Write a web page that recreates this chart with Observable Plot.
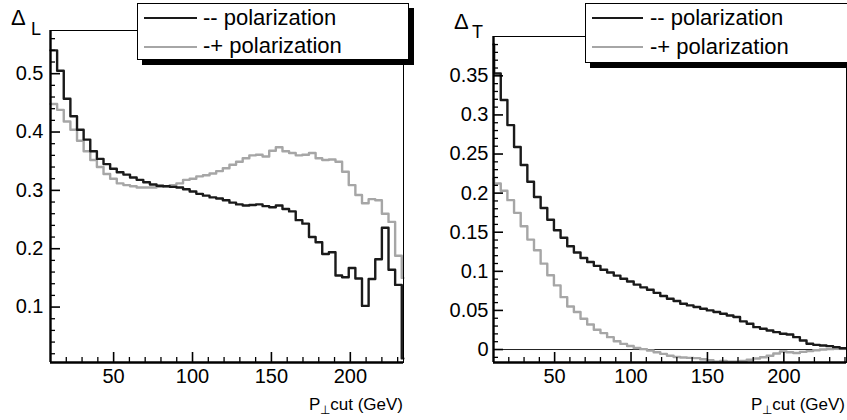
<!DOCTYPE html>
<html>
<head>
<meta charset="utf-8">
<script src="https://cdn.jsdelivr.net/npm/d3@7"></script>
<script src="https://cdn.jsdelivr.net/npm/@observablehq/plot@0.6"></script>
<style>
  body { margin: 0; background: #fff; }
  #wrap { position: relative; width: 847px; height: 420px; overflow: hidden;
          font-family: "Liberation Sans", Arial, Helvetica, sans-serif; color: #000; }
  .panel { position: absolute; top: 0; }
  .legend { position: absolute; background: #fff; border: 1px solid #000; box-sizing: border-box;
            box-shadow: 5px 5px 0 #000; }
  .legend .ln { position: absolute; height: 0; }
  .legend .tx { position: absolute; font-size: 22px; line-height: 22px; white-space: nowrap; }
  .ttl { position: absolute; white-space: nowrap; }
</style>
</head>
<body>
<div id="wrap"></div>
<script>
// ---------- data ----------
const seriesNames = ["-- polarization", "-+ polarization"];

// Left panel: Delta_L vs P_T cut (GeV); bin left edges + final edge
const leftEdges = [10, 14.2, 18.4, 22.6, 26.8, 31, 35.2, 39.4, 43.6, 47.8, 52, 56.2, 60.4, 64.6, 68.8,
  73, 77.2, 81.4, 85.6, 89.8, 94, 98.2, 102.4, 106.6, 110.8, 115, 119.2, 123.4, 127.6, 131.8, 136,
  140.2, 144.4, 148.6, 152.8, 157, 161.2, 165.4, 169.6, 173.8, 178, 182.2, 186.4, 190.6, 194.8, 199,
  203.2, 207.4, 211.6, 215.8, 220, 224.2, 228.4, 232.6, 233.6];
const leftMinusMinus = [0.540, 0.505, 0.457, 0.427, 0.404, 0.387, 0.367, 0.354, 0.345, 0.337,
  0.331, 0.327, 0.322, 0.318, 0.314, 0.310, 0.308, 0.307, 0.306, 0.305,
  0.302, 0.298, 0.294, 0.291, 0.288, 0.286, 0.283, 0.279, 0.276, 0.274,
  0.275, 0.276, 0.273, 0.271, 0.274, 0.268, 0.264, 0.249, 0.243, 0.220,
  0.211, 0.191, 0.194, 0.154, 0.151, 0.167, 0.149, 0.102, 0.148, 0.182,
  0.236, 0.164, 0.138, 0.012];
const leftMinusPlus = [0.448, 0.438, 0.418, 0.404, 0.385, 0.367, 0.352, 0.340, 0.328, 0.320,
  0.312, 0.309, 0.307, 0.305, 0.305, 0.305, 0.306, 0.307, 0.309, 0.312,
  0.318, 0.320, 0.324, 0.326, 0.329, 0.333, 0.338, 0.344, 0.349, 0.355,
  0.360, 0.361, 0.358, 0.368, 0.374, 0.367, 0.364, 0.360, 0.361, 0.364,
  0.355, 0.352, 0.353, 0.349, 0.332, 0.309, 0.292, 0.278, 0.285, 0.283,
  0.260, 0.246, 0.188, 0.150];

// Right panel: Delta_T vs P_T cut (GeV)
const rightEdges = [10, 10.4, 14.75, 19.1, 23.45, 27.8, 32.15, 36.5, 40.85, 45.2, 49.55, 53.9, 58.25,
  62.6, 66.95, 71.3, 75.65, 80, 84.35, 88.7, 93.05, 97.4, 101.75, 106.1, 110.45, 114.8, 119.15,
  123.5, 127.85, 132.2, 136.55, 140.9, 145.25, 149.6, 153.95, 158.3, 162.65, 167, 171.35, 175.7,
  180.05, 184.4, 188.75, 193.1, 197.45, 201.8, 206.15, 210.5, 214.85, 219.2, 223.55, 227.9, 232.25,
  236.6, 240.95];
const rightMinusMinus = [0.390, 0.353, 0.319, 0.287, 0.259, 0.236, 0.2145, 0.195, 0.181, 0.166,
  0.1526, 0.143, 0.132, 0.124, 0.117, 0.112, 0.107, 0.102, 0.0985, 0.0945,
  0.0905, 0.087, 0.083, 0.0795, 0.0765, 0.0725, 0.0685, 0.065, 0.062, 0.0585,
  0.0564, 0.0543, 0.0521, 0.050, 0.0479, 0.0457, 0.0436, 0.0415, 0.036, 0.0329,
  0.0286, 0.0265, 0.0244, 0.0222, 0.0201, 0.0192, 0.0158, 0.0115, 0.0073, 0.006,
  0.0051, 0.0043, 0.003, 0.0017];
const rightMinusPlus = [0.218, 0.2124, 0.203, 0.191, 0.1748, 0.1577, 0.1406, 0.1269, 0.1098, 0.0949,
  0.082, 0.067, 0.0551, 0.0479, 0.0393, 0.032, 0.0252, 0.021, 0.0158, 0.0105,
  0.0072, 0.0045, 0.002, 0.0005, -0.0013, -0.0034, -0.0056, -0.008, -0.0095, -0.0103,
  -0.0107, -0.011, -0.0125, -0.0137, -0.0155, -0.0145, -0.0155, -0.0155, -0.0145, -0.013,
  -0.0115, -0.0098, -0.008, -0.005, -0.0025, -0.0035, -0.0045, -0.003, -0.002, -0.001,
  0.0, 0.0005, 0.0008, 0.001];

// axis ticks
const xMajor = [50, 100, 150, 200];
const xMajorLabels = ["50", "100", "150", "200"];
const xMinor = [20, 30, 40, 60, 70, 80, 90, 110, 120, 130, 140, 160, 170, 180, 190, 210, 220, 230, 240];
const leftYMajor = [0.1, 0.2, 0.3, 0.4, 0.5];
const leftYLabels = ["0.1", "0.2", "0.3", "0.4", "0.5"];
const leftYMinor = [0.02, 0.04, 0.06, 0.08, 0.12, 0.14, 0.16, 0.18, 0.22, 0.24, 0.26, 0.28, 0.32, 0.34,
  0.36, 0.38, 0.42, 0.44, 0.46, 0.48, 0.52, 0.54, 0.56];
const rightYMajor = [0, 0.05, 0.1, 0.15, 0.2, 0.25, 0.3, 0.35];
const rightYLabels = ["0", "0.05", "0.1", "0.15", "0.2", "0.25", "0.3", "0.35"];
const rightYMinor = [-0.01, 0.01, 0.02, 0.03, 0.04, 0.06, 0.07, 0.08, 0.09, 0.11, 0.12, 0.13, 0.14, 0.16,
  0.17, 0.18, 0.19, 0.21, 0.22, 0.23, 0.24, 0.26, 0.27, 0.28, 0.29, 0.31, 0.32, 0.33, 0.34, 0.36,
  0.37, 0.38, 0.39];

// ---------- drawing ----------
const FONT = '"Liberation Sans", Arial, Helvetica, sans-serif';
const H = 420;

function steps(edges, vals) {
  const pts = vals.map((v, i) => ({x: edges[i], y: v}));
  pts.push({x: edges[vals.length], y: vals[vals.length - 1]});
  return pts;
}

function panel(o) {
  const fw = o.width - o.marginLeft - o.marginRight;
  const fh = H - o.marginTop - o.marginBottom;
  const ymap = new Map(o.yMajor.map((d, i) => [d, o.yLabels[i]]));
  const xmap = new Map(xMajor.map((d, i) => [d, xMajorLabels[i]]));
  const xMinorIn = xMinor.filter(d => d < o.xDomain[1]);
  return Plot.plot({
    width: o.width, height: H,
    marginLeft: o.marginLeft, marginRight: o.marginRight,
    marginTop: o.marginTop, marginBottom: o.marginBottom,
    style: {fontFamily: FONT, fontSize: "20px", color: "#000", background: "transparent", overflow: "visible"},
    x: {domain: o.xDomain},
    y: {domain: o.yDomain},
    marks: [
      o.zero ? Plot.ruleY([0], {stroke: "#222", strokeWidth: 1}) : null,
      Plot.line(steps(o.edges, o.gray), {x: "x", y: "y", curve: "step-after", stroke: "#a6a6a6", strokeWidth: 2.4}),
      Plot.line(steps(o.edges, o.black), {x: "x", y: "y", curve: "step-after", stroke: "#1a1a1a", strokeWidth: 2.4}),
      Plot.frame({stroke: "#000", strokeWidth: 1}),
      Plot.tickY(o.yMajor, {y: d => d, insetRight: fw - 10, stroke: "#000", strokeWidth: 1.6}),
      Plot.tickY(o.yMinor, {y: d => d, insetRight: fw - 5, stroke: "#000", strokeWidth: 1.3}),
      Plot.tickX(xMajor, {x: d => d, insetTop: fh - 10, stroke: "#000", strokeWidth: 1.6}),
      Plot.tickX(xMinorIn, {x: d => d, insetTop: fh - 5, stroke: "#000", strokeWidth: 1.3}),
      Plot.ruleX([o.xDomain[0]], {stroke: "#000", strokeWidth: 2.4}),
      Plot.ruleY([o.yDomain[0]], {stroke: "#000", strokeWidth: 2.4}),
      Plot.axisY(o.yMajor, {tickSize: 0, tickPadding: o.yPad, fontSize: 20, label: null, tickFormat: d => ymap.get(d)}),
      Plot.axisX(xMajor, {tickSize: 0, tickPadding: 6, fontSize: 20, label: null, tickFormat: d => xmap.get(d)})
    ]
  });
}

const wrap = document.getElementById("wrap");

const left = panel({
  width: 423, marginLeft: 50, marginRight: 20, marginTop: 30, marginBottom: 58,
  xDomain: [10, 233.7], yDomain: [0.005, 0.574],
  edges: leftEdges, black: leftMinusMinus, gray: leftMinusPlus,
  yMajor: leftYMajor, yLabels: leftYLabels, yMinor: leftYMinor, yPad: 7, zero: false
});
left.classList.add("panel"); left.style.left = "0px";
wrap.appendChild(left);

const right = panel({
  width: 424, marginLeft: 70, marginRight: 1, marginTop: 36, marginBottom: 58,
  xDomain: [10, 241], yDomain: [-0.0166, 0.4003],
  edges: rightEdges, black: rightMinusMinus, gray: rightMinusPlus,
  yMajor: rightYMajor, yLabels: rightYLabels, yMinor: rightYMinor, yPad: 5, zero: true
});
right.classList.add("panel"); right.style.left = "423px";
wrap.appendChild(right);

// ---------- titles and legends ----------
function addText(html, css) {
  const d = document.createElement("div");
  d.className = "ttl";
  d.innerHTML = html;
  Object.assign(d.style, css);
  wrap.appendChild(d);
  return d;
}
// y titles (baseline ≈ top + 0.846*fontSize)
addText("Δ", {left: "11px", top: (26 - 0.846 * 22) + "px", fontSize: "22px", lineHeight: "22px"});
addText("L", {left: "31px", top: (35 - 0.846 * 18) + "px", fontSize: "18px", lineHeight: "18px"});
addText("Δ", {left: "454px", top: (30 - 0.846 * 22) + "px", fontSize: "22px", lineHeight: "22px"});
addText("T", {left: "472px", top: (38.5 - 0.846 * 18) + "px", fontSize: "18px", lineHeight: "18px"});

// x titles
const xt = 'P<span style="font-size:12px;position:relative;top:4px;">⊥</span>cut (GeV)';
addText(xt, {right: (847 - 403) + "px", top: (410 - 0.846 * 17) + "px", fontSize: "17px", lineHeight: "17px"});
addText(xt, {right: "2px", top: (410 - 0.846 * 17) + "px", fontSize: "17px", lineHeight: "17px"});

function legend(x, y, w, h, lineX, lineW, textX, rows) {
  const box = document.createElement("div");
  box.className = "legend";
  Object.assign(box.style, {left: x + "px", top: y + "px", width: w + "px", height: h + "px"});
  rows.forEach((r) => {
    const ln = document.createElement("div");
    ln.className = "ln";
    Object.assign(ln.style, {left: lineX + "px", width: lineW + "px", top: (r.ly - 1.25) + "px",
      borderTop: "2.5px solid " + r.color});
    box.appendChild(ln);
    const tx = document.createElement("div");
    tx.className = "tx";
    tx.textContent = r.name;
    tx.style.left = textX + "px";
    tx.style.top = (r.base - 0.846 * 22) + "px";
    box.appendChild(tx);
  });
  wrap.appendChild(box);
}
legend(137, 3, 272, 57, 6, 53, 65, [
  {name: seriesNames[0], color: "#1a1a1a", ly: 14, base: 22},
  {name: seriesNames[1], color: "#a6a6a6", ly: 43, base: 50}
]);
legend(585, 3, 290, 60, 6, 51, 64, [
  {name: seriesNames[0], color: "#1a1a1a", ly: 14, base: 22},
  {name: seriesNames[1], color: "#a6a6a6", ly: 43, base: 51}
]);
</script>
</body>
</html>
